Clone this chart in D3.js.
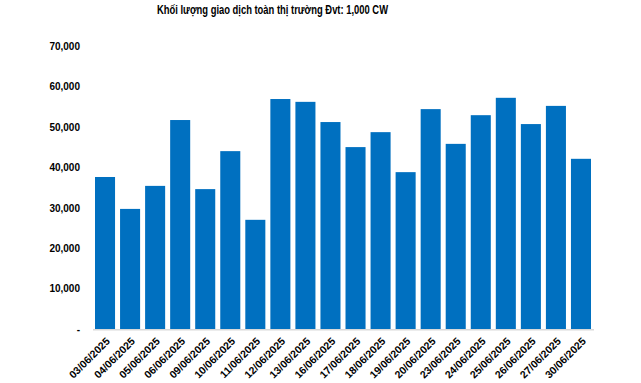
<!DOCTYPE html>
<html>
<head>
<meta charset="utf-8">
<script src="https://cdn.jsdelivr.net/npm/d3@7"></script>
<style>
  body { margin: 0; background: #fff; }
  text { font-family: "Liberation Sans", Arial, sans-serif; font-weight: bold; fill: #000; }
</style>
</head>
<body>
<div id="chart"></div>
<script>
// data
const dates = ['03/06/2025', '04/06/2025', '05/06/2025', '06/06/2025', '09/06/2025',
  '10/06/2025', '11/06/2025', '12/06/2025', '13/06/2025', '16/06/2025',
  '17/06/2025', '18/06/2025', '19/06/2025', '20/06/2025', '23/06/2025',
  '24/06/2025', '25/06/2025', '26/06/2025', '27/06/2025', '30/06/2025'];
const volumes = [37700, 29800, 35500, 51800, 34700, 44100, 27100, 57000, 56300, 51300,
  45100, 48800, 38900, 54500, 45900, 53000, 57300, 50800, 55300, 42200];
const yTicks = [0, 10000, 20000, 30000, 40000, 50000, 60000, 70000];
const title = 'Khối lượng giao dịch toàn thị trường Đvt: 1,000 CW';

const width = 641;
const height = 383;
const margin = { left: 92.5, right: 47.5, top: 46.5, bottom: 53.7 };

const svg = d3.select('#chart').append('svg')
  .attr('width', width)
  .attr('height', height);

const x = d3.scaleBand()
  .domain(dates)
  .range([margin.left, width - margin.right])
  .paddingInner(0.2)
  .paddingOuter(0.1);

const y = d3.scaleLinear()
  .domain([0, 70000])
  .range([height - margin.bottom, margin.top]);

// title font in the source is narrow, squeeze it to the same width
svg.append('text')
  .attr('x', 272.5)
  .attr('y', 14)
  .attr('text-anchor', 'middle')
  .attr('textLength', 231)
  .attr('lengthAdjust', 'spacingAndGlyphs')
  .style('font-size', '12px')
  .text(title);

// y axis labels, no line
const fmt = d3.format(',');
svg.append('g')
  .selectAll('text')
  .data(yTicks)
  .enter()
  .append('text')
  .attr('x', 80)
  .attr('y', (d) => y(d))
  .attr('dy', '0.35em')
  .attr('text-anchor', 'end')
  .style('font-size', '10px')
  .text((d) => (d === 0 ? '-' : fmt(d)));

svg.append('g')
  .selectAll('rect')
  .data(volumes)
  .enter()
  .append('rect')
  .attr('x', (d, i) => x(dates[i]))
  .attr('y', (d) => y(d))
  .attr('width', x.bandwidth())
  .attr('height', (d) => y(0) - y(d))
  .attr('fill', '#0070C0');

// x axis
const xAxis = svg.append('g')
  .attr('transform', `translate(0,${y(0)})`)
  .call(d3.axisBottom(x).tickSize(0).tickSizeOuter(0));
xAxis.select('.domain')
  .attr('stroke', '#d9d9d9')
  .attr('stroke-width', 1.5);
xAxis.selectAll('text')
  .attr('y', 0)
  .attr('text-anchor', 'end')
  .attr('transform', 'translate(3,10) rotate(-45)')
  .attr('dy', '0.35em')
  .style('font-size', '10.5px')
  .style('font-family', '"Liberation Sans", Arial, sans-serif')
  .style('font-weight', 'bold');
</script>
</body>
</html>
